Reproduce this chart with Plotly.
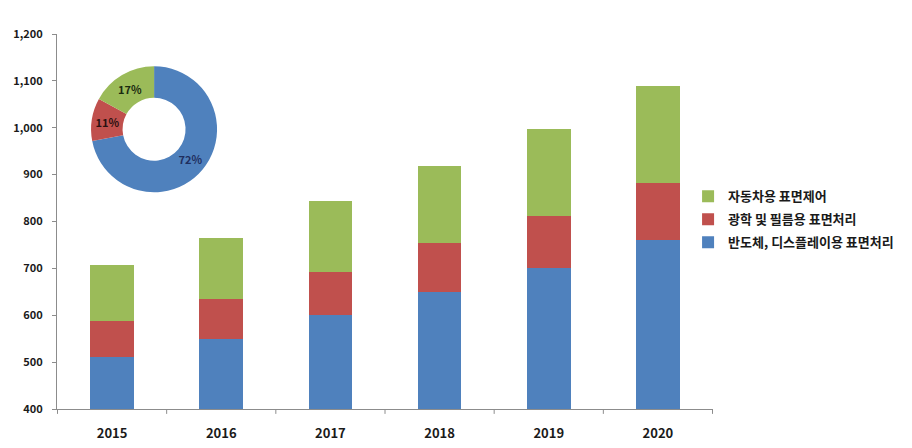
import plotly.graph_objects as go

years = ["2015", "2016", "2017", "2018", "2019", "2020"]
semiconductor = [510, 550, 600, 650, 700, 760]
optical_film = [78, 84, 92, 104, 111, 122]
automotive = [119, 131, 151, 164, 186, 207]

series_names = ["반도체, 디스플레이용 표면처리", "광학 및 필름용 표면처리", "자동차용 표면제어"]
series_colors = ["#4F81BD", "#C0504D", "#9BBB59"]

share_values = [72, 11, 17]
share_text_colors = ["#1F2F5F", "#2A1010", "#1A2A10"]

yticks = [400, 500, 600, 700, 800, 900, 1000, 1100, 1200]

FONT = "Noto Sans CJK KR"

fig = go.Figure()
for i, (name, vals, col) in enumerate(zip(series_names, [semiconductor, optical_film, automotive], series_colors)):
    fig.add_trace(go.Bar(x=years, y=vals, name=name, legendgroup=f"g{i}", legendrank=1000 - i,
                         marker=dict(color=col, line=dict(width=0))))

fig.add_trace(go.Pie(
    values=share_values, labels=series_names, marker=dict(colors=series_colors, line=dict(width=0)),
    hole=0.5, sort=False, direction="clockwise", rotation=0,
    texttemplate="%{value}%", textposition="inside", insidetextorientation="horizontal",
    textfont=dict(family=FONT, size=11, color=share_text_colors, weight="bold"),
    showlegend=False, hoverinfo="skip",
    domain=dict(x=[0.052, 0.244], y=[0.578, 0.914]),
))

fig.update_layout(
    width=912, height=448,
    margin=dict(l=49, r=207, t=26, b=47, autoexpand=False),
    barmode="stack", bargap=0.6,
    paper_bgcolor="white", plot_bgcolor="white",
    font=dict(family=FONT, color="#1a1a1a"),
    showlegend=True,
    legend=dict(x=0.962, y=0.607, xanchor="left", yanchor="top", traceorder="grouped",
                tracegroupgap=3,
                font=dict(family=FONT, size=13, weight="bold", color="#1a1a1a"),
                bgcolor="rgba(0,0,0,0)", itemwidth=30),
    xaxis=dict(showline=True, linecolor="#8c8c8c", linewidth=1, ticks="", showgrid=False, automargin=False,
               tickfont=dict(family=FONT, size=13, weight="bold"), ticklabelstandoff=12),
    yaxis=dict(range=[400, 1200], tickvals=yticks, tickformat=",", showline=True, linecolor="#8c8c8c",
               linewidth=1, ticks="outside", ticklen=4, tickcolor="#8c8c8c", showgrid=False, automargin=False,
               zeroline=False, tickfont=dict(family=FONT, size=11, weight="bold"), ticklabelstandoff=7),
)

# category divider ticks on the x axis
for i in range(len(years) + 1):
    fig.add_shape(type="line", xref="x", yref="paper", x0=i - 0.5, x1=i - 0.5, y0=0, y1=-0.013,
                  line=dict(color="#8c8c8c", width=1))

fig.write_html("out.html")
